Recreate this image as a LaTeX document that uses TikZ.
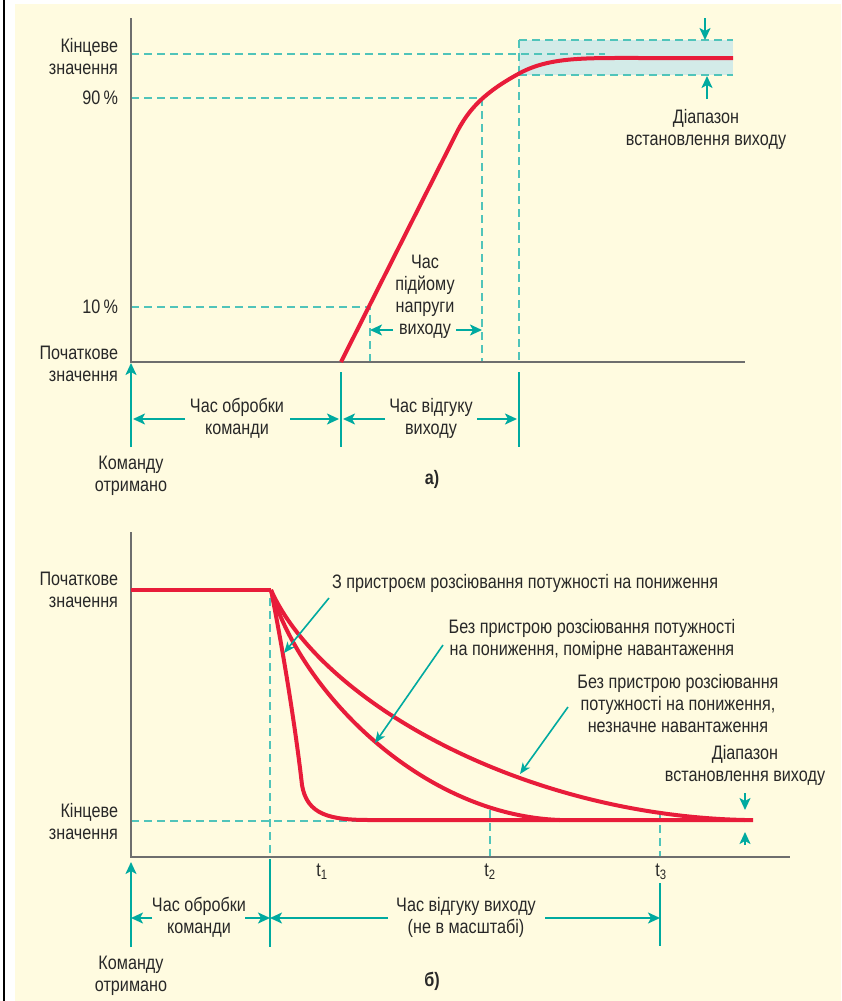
\documentclass[tikz,border=0pt]{standalone}
\usepackage{fontspec}
\setmainfont[FakeStretch=0.83]{Liberation Sans}
\usetikzlibrary{calc}
\usetikzlibrary{arrows.meta}
\definecolor{cream}{RGB}{255,251,224}
\definecolor{tealc}{RGB}{0,170,160}
\definecolor{dashc}{RGB}{80,196,186}
\definecolor{curvered}{RGB}{232,28,58}
\definecolor{axisgray}{RGB}{110,110,110}
\definecolor{bandfill}{RGB}{211,235,232}
\definecolor{textc}{RGB}{40,40,40}
\newcommand{\lbltext}{\fontsize{19.5}{22}\selectfont}

\begin{document}
\begin{tikzpicture}[x=1pt,y=-1pt,
    every node/.style={inner sep=0,outer sep=0,text=textc,font=\lbltext},
    axis/.style={axisgray,line width=2.2pt},
    guide/.style={dashc,line width=1.3pt,dash pattern=on 8pt off 5pt},
    tickline/.style={tealc,line width=2.2pt},
    span/.style={tealc,line width=2pt,-{Stealth[length=12pt,width=11pt,inset=3pt]}},
    pointer/.style={tealc,line width=1.6pt,-{Stealth[length=11pt,width=9pt,inset=3pt]}},
    response/.style={curvered,line width=4pt,line join=round},
    lbl/.style={align=center},
    lblr/.style={align=right,anchor=east}]
    \useasboundingbox (0,0) rectangle (841,1001);
    \fill[white] (0,0) rectangle (841,1001);
    \fill[cream] (15,4) rectangle (841,1001);
    \draw[black,line width=1.8pt] (4,0) -- (4,1001);

    % ---- a) ----
    \coordinate (aTop) at (131,18); \coordinate (aO) at (131,362); \coordinate (aEnd) at (745,362);
    \coordinate (aStart) at (341,362); \coordinate (aKnee) at (458,130);
    \coordinate (a10) at (370,307); \coordinate (a90) at (482,98); \coordinate (aBand) at (519,40);
    \fill[bandfill] (aBand) rectangle (733,75);
    \draw[guide] (aBand) -- (733,40);
    \draw[guide] (519,75) -- (733,75);
    \draw[guide] (aBand) -- (aBand |- aO);
    \draw[guide] (131,54) -- (605,54);
    \draw[guide] (aTop |- a90) -- (a90) -- (a90 |- aO);
    \draw[guide] (aTop |- a10) -- (a10) -- (a10 |- aO);
    \draw[axis] (aTop) -- (aO) -- (aEnd);
    \draw[response] (aStart) -- (aKnee) .. controls (470,108) and (485,92) .. (520,73)
        .. controls (550,57) and (585,58) .. (640,58) -- (733,58);

    \node[lblr] (aFinal) at (118,57) {Кінцеве\\значення};
    \node[anchor=east] (aP90) at (118,98) {90\,\%};
    \node[anchor=east] (aP10) at (118,307) {10\,\%};
    \node[lblr] (aInit) at (118,364) {Початкове\\значення};

    \coordinate (bandDn) at (705,18); \coordinate (bandUp) at (707,99);
    \draw[span] (bandDn) -- (bandDn |- aBand);
    \draw[span] (bandUp) -- ++(0,-23);
    \node[lbl] (aRange) at (706,129) {Діапазон\\встановлення виходу};

    \node[lbl] (aRise) at (425,297) {Час\\підйому\\напруги\\виходу};
    \coordinate (riseL) at (393,330); \coordinate (riseR) at (456,330);
    \draw[span] (riseL) -- (riseL -| a10);
    \draw[span] (riseR) -- (riseR -| a90);

    \coordinate (aCmd) at (131,447); \coordinate (aT1) at (341,372); \coordinate (aT2) at (519,372);
    \draw[span] (aCmd) -- ++(0,-84);
    \draw[tickline] (aT1) -- ++(0,75);
    \draw[tickline] (aT2) -- ++(0,75);
    \node[lbl] (aProc) at (237,418) {Час обробки\\команди};
    \node[lbl] (aResp) at (431,418) {Час відгуку\\виходу};
    \coordinate (procL) at (185,419); \coordinate (procR) at (290,419);
    \coordinate (respL) at (385,419); \coordinate (respR) at (477,419);
    \draw[span] (procL) -- ++(-52,0);
    \draw[span] (procR) -- ++(49,0);
    \draw[span] (respL) -- ++(-42,0);
    \draw[span] (respR) -- ++(40,0);
    \node[lbl] (aRecv) at (131,476) {Команду\\отримано};
    \node[font=\lbltext\bfseries] (aTag) at (432,479) {а)};

    % ---- б) ----
    \coordinate (bTop) at (131,532); \coordinate (bO) at (131,857); \coordinate (bEnd) at (790,857);
    \coordinate (bStart) at (271,590); \coordinate (bT2) at (490,810); \coordinate (bT3) at (660,812);
    \draw[guide] (bO |- 0,821) -- (360,821);
    \draw[guide] (270,598) -- (270,857);
    \draw[guide] (bT2) -- (bT2 |- bO);
    \draw[guide] (bT3) -- (bT3 |- bO);
    \draw[axis] (bTop) -- (bO) -- (bEnd);
    \draw[response] (bO |- bStart) -- (bStart);
    \draw[response] (bStart) .. controls (320,700) and (520,815) .. (745,820);
    \draw[response] (bStart) .. controls (300,690) and (420,815) .. (560,820);
    \draw[response] (bStart) .. controls (285,660) and (297,740) .. (302,785)
        .. controls (307,815) and (330,820) .. (370,820) -- (753,820);

    \node[lblr] (bInit) at (118,590) {Початкове\\значення};
    \node[lblr] (bFinal) at (118,822) {Кінцеве\\значення};

    \node[anchor=west] (bNote1) at (332,583) {З пристроєм розсіювання потужності на пониження};
    \node[lbl] (bNote2) at (592,639) {Без пристрою розсіювання потужності\\на пониження, помірне навантаження};
    \node[lbl] (bNote3) at (678,704) {Без пристрою розсіювання\\потужності на пониження,\\незначне навантаження};
    \coordinate (n1) at (329,598); \coordinate (n2) at (443,645); \coordinate (n3) at (568,707);
    \draw[pointer] (n1) -- (284,653);
    \draw[pointer] (n2) -- (375,743);
    \draw[pointer] (n3) -- (520,774);

    \node[lbl] (bRange) at (745,765) {Діапазон\\встановлення виходу};
    \coordinate (bandB) at (745,793);
    \draw[span] (bandB) -- ++(0,17);
    \draw[span] (745,845) -- ++(0,-13);

    \node (t1) at (322,872) {t\textsubscript{1}};
    \node (t2) at (490,872) {t\textsubscript{2}};
    \node (t3) at (661,872) {t\textsubscript{3}};

    \coordinate (bCmd) at (131,947); \coordinate (bTk1) at (270,859); \coordinate (bTk2) at (660,883);
    \draw[span] (bCmd) -- ++(0,-85);
    \draw[tickline] (bTk1) -- (bTk1 |- bCmd);
    \draw[tickline] (bTk2) -- ++(0,63);
    \node[lbl] (bProc) at (199,917) {Час обробки\\команди};
    \node[lbl] (bResp) at (466,917) {Час відгуку виходу\\(не в масштабі)};
    \coordinate (bprocL) at (152,918); \coordinate (bprocR) at (245,918);
    \coordinate (brespL) at (388,918); \coordinate (brespR) at (545,918);
    \draw[span] (bprocL) -- (bprocL -| bO);
    \draw[span] (bprocR) -- (bprocR -| bTk1);
    \draw[span] (brespL) -- (brespL -| bTk1);
    \draw[span] (brespR) -- (brespR -| bTk2);
    \node[lbl] (bRecv) at (131,976) {Команду\\отримано};
    \node[font=\lbltext\bfseries] (bTag) at (432,981) {б)};
\end{tikzpicture}
\end{document}
